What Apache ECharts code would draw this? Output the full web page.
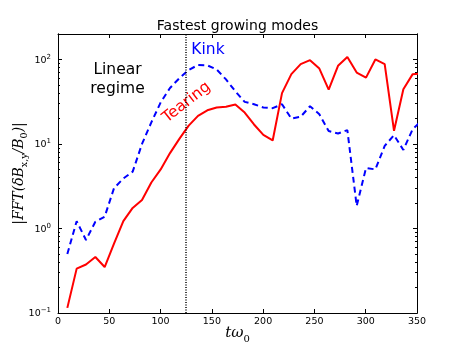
<!DOCTYPE html>
<html>
<head>
<meta charset="utf-8">
<script src="https://cdn.jsdelivr.net/npm/echarts@6/dist/echarts.min.js"></script>
<style>
  html, body { margin: 0; padding: 0; background: #fff; }
  #chart { width: 463px; height: 349px; }
</style>
</head>
<body>
<div id="chart"></div>
<script>
// time samples (t*omega_0)
var times = [9.1, 18.2, 27.3, 36.4, 45.5, 54.6, 63.7, 72.8, 81.9, 91, 100.1, 109.2, 118.3,
  127.4, 136.5, 145.6, 154.7, 163.8, 172.9, 182, 191.1, 200.2, 209.3, 218.4, 227.5, 236.6,
  245.7, 254.8, 263.9, 273, 282.1, 291.2, 300.3, 309.4, 318.5, 327.6, 336.7, 345.8, 354.9];
var tearing = [0.115, 0.335, 0.375, 0.46, 0.35, 0.66, 1.22, 1.75, 2.17, 3.5, 5.0, 7.8, 11.5,
  16.5, 21.5, 25, 27, 27.5, 29.3, 23.5, 17, 12.8, 11, 40, 67, 88, 98, 78, 44, 84, 107, 70,
  61, 100, 88, 14.3, 44.5, 67, 68];
var kink = [0.5, 1.22, 0.73, 1.2, 1.38, 3.0, 3.9, 4.7, 10, 18, 31, 46, 60, 75, 86, 85, 76, 58,
  42, 31.5, 29.5, 27, 26.5, 29.5, 20, 21, 28, 22.5, 14.2, 13.3, 14.6, 1.85, 5.2, 5.0, 9.5,
  12.7, 8.5, 15, 19];
var majorY = [0.1, 1, 10, 100];
var minorY = [0.2, 0.3, 0.4, 0.5, 0.6, 0.7, 0.8, 0.9, 2, 3, 4, 5, 6, 7, 8, 9,
  20, 30, 40, 50, 60, 70, 80, 90, 200];
var linearEnd = 125;

var chart = echarts.init(document.getElementById('chart'), null, { renderer: 'canvas' });
var sans = 'DejaVu Sans';
var frame = { show: true, lineStyle: { color: '#000', width: 1 } };

function pairs(vals) {
  return times.map(function (t, i) { return [t, vals[i]]; });
}

function yAxisDef(pos, ticks, len, labels) {
  return {
    type: 'log', logBase: 10, min: 0.1, max: 200, position: pos,
    axisLine: frame,
    axisTick: { show: true, inside: true, length: len, customValues: ticks, lineStyle: { color: '#000' } },
    axisLabel: labels ? {
      show: true, customValues: majorY, margin: 7, color: '#000', fontFamily: sans,
      formatter: function (v) {
        var e = Math.round(Math.log(v) / Math.LN10);
        return '{b|10}{s|' + (e < 0 ? '\u2212' + (-e) : e) + '}';
      },
      rich: {
        b: { fontSize: 9.5, fontFamily: sans, color: '#000', verticalAlign: 'bottom' },
        s: { fontSize: 7, fontFamily: sans, color: '#000', verticalAlign: 'bottom', padding: [0, 0, 5, 0] }
      }
    } : { show: false },
    splitLine: { show: false },
    minorTick: { show: false }
  };
}

chart.setOption({
  animation: false,
  grid: { left: 58, right: 46, top: 34, bottom: 36, outerBoundsMode: 'none', containLabel: false },
  xAxis: [{
    type: 'value', min: 0, max: 350, interval: 50, position: 'bottom',
    axisLine: frame,
    axisTick: { inside: true, length: 4, lineStyle: { color: '#000' } },
    axisLabel: { color: '#000', fontSize: 9.5, fontFamily: sans, margin: 4 },
    splitLine: { show: false },
    name: '{i|t\u03c9}{s|0}', nameLocation: 'middle', nameGap: 13, nameMoveOverlap: false,
    nameTextStyle: {
      rich: {
        i: { fontSize: 15, fontFamily: 'DejaVu Serif', fontStyle: 'italic', color: '#000', verticalAlign: 'top' },
        s: { fontSize: 10, fontFamily: 'DejaVu Serif', color: '#000', verticalAlign: 'top', padding: [8, 0, 0, 0] }
      }
    }
  }, {
    type: 'value', min: 0, max: 350, interval: 50, position: 'top',
    axisLine: frame,
    axisTick: { inside: true, length: 4, lineStyle: { color: '#000' } },
    axisLabel: { show: false },
    splitLine: { show: false }
  }],
  yAxis: [
    Object.assign(yAxisDef('left', majorY, 4, true), {
      name: '{m||FFT(\u03b4B}{s|x,y}{m|/B}{s|0}{m|)|}',
      nameLocation: 'middle', nameRotate: 90, nameGap: 28, nameMoveOverlap: false,
      nameTextStyle: {
        rich: {
          m: { fontSize: 14, fontFamily: 'DejaVu Serif', fontStyle: 'italic', color: '#000', verticalAlign: 'top' },
          s: { fontSize: 9.5, fontFamily: 'DejaVu Serif', color: '#000', verticalAlign: 'top', padding: [8, 0, 0, 0] }
        }
      }
    }),
    yAxisDef('left', minorY, 2, false),
    yAxisDef('right', majorY, 4, false),
    yAxisDef('right', minorY, 2, false)
  ],
  series: [{
    name: 'Kink', type: 'line', data: pairs(kink), symbol: 'none', clip: true,
    lineStyle: { color: '#0000ff', width: 2, type: [6, 4] }, z: 3
  }, {
    name: 'Tearing', type: 'line', data: pairs(tearing), symbol: 'none', clip: true,
    lineStyle: { color: '#ff0000', width: 2 }, z: 4,
    markLine: {
      silent: true, symbol: ['none', 'none'], label: { show: false },
      lineStyle: { color: '#000', width: 1.5, type: [1, 1.5] },
      data: [{ xAxis: linearEnd }]
    }
  }]
});

// text annotations placed in data coordinates
function px(t, v) { return chart.convertToPixel({ xAxisIndex: 0, yAxisIndex: 0 }, [t, v]); }
var pTitle = px(175, 200);
var pKink = px(130, 129);
var pLin = px(58, 58);
var pTear = px(125.4, 31);
chart.setOption({
  graphic: [
    { type: 'text', x: pTitle[0], y: pTitle[1] - 8, style: { text: 'Fastest growing modes', fill: '#000', fontSize: 14, fontFamily: sans, align: 'center', verticalAlign: 'middle' } },
    { type: 'text', x: pKink[0], y: pKink[1], style: { text: 'Kink', fill: '#0000ff', fontSize: 15.5, fontFamily: sans, align: 'left', verticalAlign: 'middle' } },
    { type: 'text', x: pLin[0], y: pLin[1], style: { text: 'Linear\nregime', fill: '#000', fontSize: 15.5, lineHeight: 19, fontFamily: sans, align: 'center', verticalAlign: 'middle' } },
    { type: 'text', x: pTear[0], y: pTear[1], rotation: 38 * Math.PI / 180, style: { text: 'Tearing', fill: '#ff0000', fontSize: 15.5, fontFamily: sans, align: 'center', verticalAlign: 'middle' } }
  ]
});
</script>
</body>
</html>
